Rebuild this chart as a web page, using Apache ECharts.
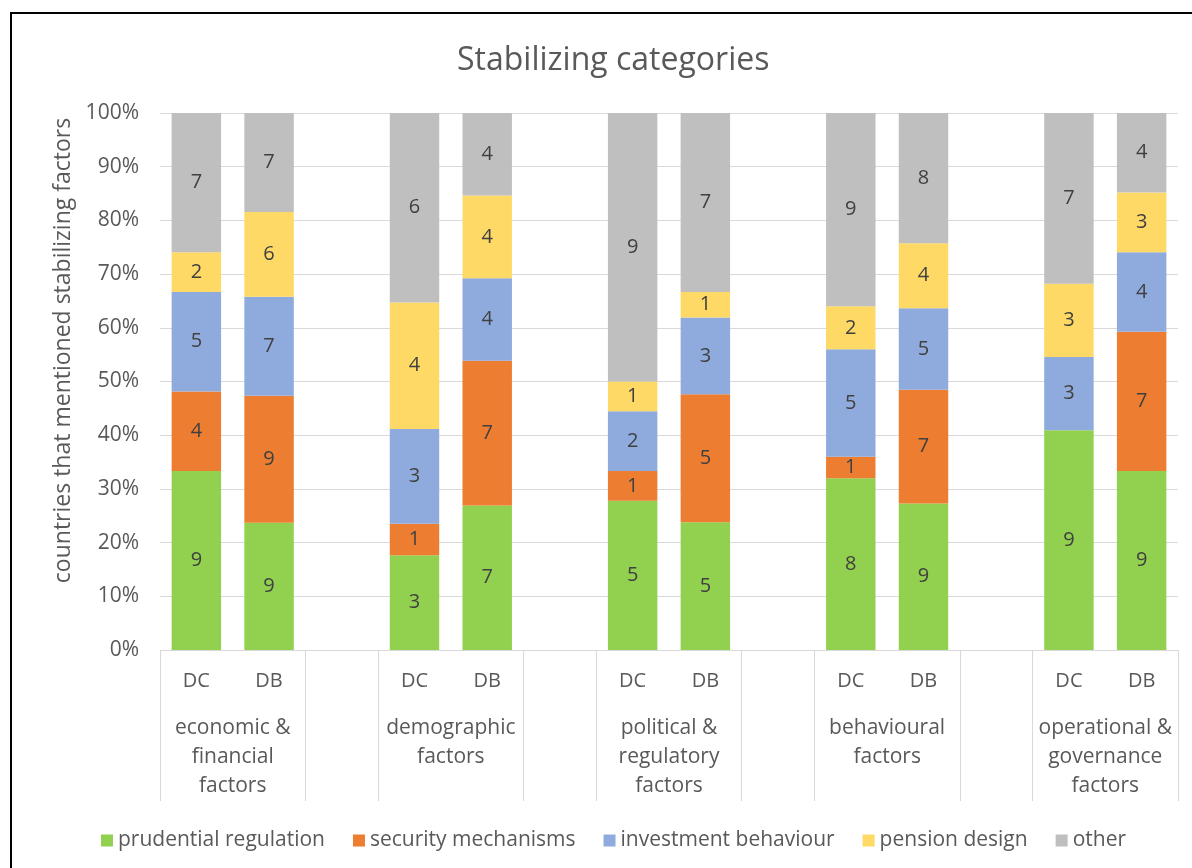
<!DOCTYPE html>
<html>
<head>
<meta charset="utf-8">
<script src="https://cdn.jsdelivr.net/npm/echarts@6/dist/echarts.min.js"></script>
<style>
  html, body { margin: 0; padding: 0; background: #fff; overflow: hidden; }
  #chart { width: 1192px; height: 868px; }
</style>
</head>
<body>
<div id="chart"></div>
<script>
// groups along the x axis, each with a DC and a DB column
const groups = [
  'economic &\nfinancial\nfactors',
  'demographic\nfactors',
  'political &\nregulatory\nfactors',
  'behavioural\nfactors',
  'operational &\ngovernance\nfactors'
]
const plans = ['DC', 'DB']

const seriesNames = ['prudential regulation', 'security mechanisms', 'investment behaviour', 'pension design', 'other']
const colors = ['#92D050', '#ED7D31', '#8FAADC', '#FFD966', '#BFBFBF']

// number of countries, order: DC, DB for each group
const prudential = [9, 9, 3, 7, 5, 5, 8, 9, 9, 9]
const security   = [4, 9, 1, 7, 1, 5, 1, 7, 0, 7]
const investment = [5, 7, 3, 4, 2, 3, 5, 5, 3, 4]
const pension    = [2, 6, 4, 4, 1, 1, 2, 4, 3, 3]
const other      = [7, 7, 6, 4, 9, 7, 9, 8, 7, 4]

const counts = [prudential, security, investment, pension, other]
const totals = prudential.map((_, i) => counts.reduce((s, arr) => s + arr[i], 0))

// 14 slots: DC, DB, blank, DC, DB, blank ...
const slotLabels = []
const slotIndex = [] // slot -> column index or -1
groups.forEach((g, gi) => {
  plans.forEach((p, pi) => { slotLabels.push(p); slotIndex.push(gi * 2 + pi) })
  if (gi < groups.length - 1) { slotLabels.push(''); slotIndex.push(-1) }
})

// group axis: points at slot boundaries (15 points)
const groupAxisData = []
for (let i = 0; i <= slotLabels.length; i++) groupAxisData.push('')
groups.forEach((g, gi) => { groupAxisData[gi * 3 + 1] = g })
const boundaryPoints = groupAxisData.map((_, i) => i % 3 !== 1)

const textColor = '#595959'
const font = 'Open Sans'

const series = seriesNames.map((name, si) => ({
  name: name,
  type: 'bar',
  stack: 'total',
  barWidth: '68%',
  itemStyle: { color: colors[si] },
  label: {
    show: true,
    position: 'inside',
    color: '#404040',
    fontSize: 20,
    fontFamily: font,
    formatter: p => {
      const c = slotIndex[p.dataIndex]
      if (c < 0) return ''
      const n = counts[si][c]
      return n ? String(n) : ''
    }
  },
  data: slotIndex.map(c => c < 0 ? '-' : counts[si][c] / totals[c] * 100)
}))

const chart = echarts.init(document.getElementById('chart'))
chart.setOption({
  animation: false,
  color: colors,
  title: {
    text: 'Stabilizing categories',
    left: 452,
    top: 40,
    textStyle: { color: textColor, fontSize: 32, fontWeight: 'normal', fontFamily: font }
  },
  legend: {
    left: 96,
    top: 825,
    itemWidth: 12,
    itemHeight: 12,
    itemGap: 28,
    icon: 'rect',
    textStyle: { color: textColor, fontSize: 21, fontFamily: font },
    data: seriesNames
  },
  grid: { left: 160, right: 14, top: 113, bottom: 218 },
  graphic: [{
    type: 'rect',
    silent: true,
    z: -10,
    shape: { x: 11, y: 13, width: 1400, height: 1000 },
    style: { fill: 'none', stroke: '#000', lineWidth: 2 }
  }],
  xAxis: [
    {
      type: 'category',
      data: slotLabels,
      axisLine: { lineStyle: { color: '#D9D9D9' } },
      axisTick: { show: false },
      axisLabel: {
        interval: 0, color: textColor, fontSize: 20, fontFamily: font,
        margin: 19, lineHeight: 24
      }
    },
    {
      type: 'category',
      position: 'bottom',
      boundaryGap: false,
      data: groupAxisData,
      axisLine: { show: false },
      axisTick: {
        show: true,
        length: 151,
        interval: (i) => boundaryPoints[i],
        lineStyle: { color: '#D9D9D9' }
      },
      axisLabel: {
        interval: 0, color: textColor, fontSize: 21, fontFamily: font,
        margin: 64, lineHeight: 29, align: 'center'
      },
      splitLine: { show: false }
    }
  ],
  yAxis: {
    type: 'value',
    min: 0,
    max: 100,
    interval: 10,
    name: 'countries that mentioned stabilizing factors',
    nameLocation: 'middle',
    nameGap: 84,
    nameTextStyle: { color: textColor, fontSize: 23, fontFamily: font, padding: [0, 0, 0, 62] },
    axisLine: { show: false },
    axisTick: { show: false },
    axisLabel: { color: textColor, fontSize: 21, fontFamily: font, margin: 21, formatter: '{value}%' },
    splitLine: { lineStyle: { color: '#D9D9D9' } }
  },
  series: series
})
</script>
</body>
</html>
